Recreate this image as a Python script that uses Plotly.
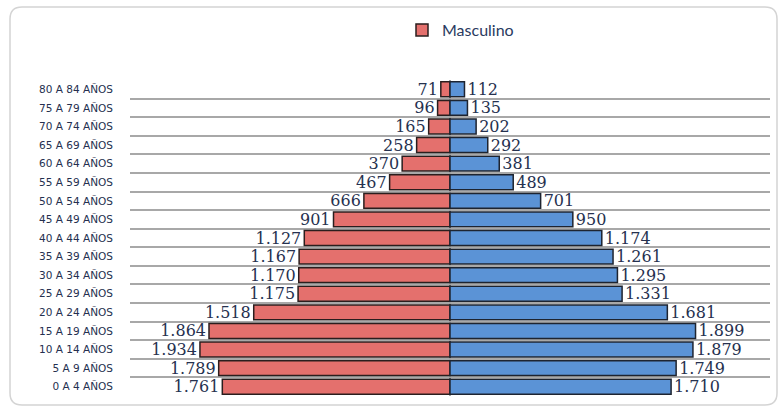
import plotly.graph_objects as go

age_groups = ["0 A 4 AÑOS", "5 A 9 AÑOS", "10 A 14 AÑOS", "15 A 19 AÑOS", "20 A 24 AÑOS",
              "25 A 29 AÑOS", "30 A 34 AÑOS", "35 A 39 AÑOS", "40 A 44 AÑOS", "45 A 49 AÑOS",
              "50 A 54 AÑOS", "55 A 59 AÑOS", "60 A 64 AÑOS", "65 A 69 AÑOS", "70 A 74 AÑOS",
              "75 A 79 AÑOS", "80 A 84 AÑOS"]
masculino = [1761, 1789, 1934, 1864, 1518, 1175, 1170, 1167, 1127, 901, 666, 467, 370, 258, 165, 96, 71]
femenino = [1710, 1749, 1879, 1899, 1681, 1331, 1295, 1261, 1174, 950, 701, 489, 381, 292, 202, 135, 112]


def fmt(v):
    return f"{v:,}".replace(",", ".")


label_font = dict(family="'DejaVu Serif', 'Liberation Serif', serif", size=16, color="#26314F")
sans = "Lato, Carlito, 'Liberation Sans', sans-serif"

fig = go.Figure()
fig.add_trace(go.Bar(
    y=age_groups, x=[-v for v in masculino], orientation="h", name="Masculino",
    marker=dict(color="#E4706D", line=dict(color="#2A1E1E", width=1.5)),
    text=[fmt(v) for v in masculino], textposition="outside", textfont=label_font,
    constraintext="none", cliponaxis=False, hoverinfo="skip",
))
fig.add_trace(go.Bar(
    y=age_groups, x=femenino, orientation="h", name="Femenino", showlegend=False,
    marker=dict(color="#5B93D6", line=dict(color="#1E2430", width=1.5)),
    text=[fmt(v) for v in femenino], textposition="outside", textfont=label_font,
    constraintext="none", cliponaxis=False, hoverinfo="skip",
))

W, H = 782, 412
L, R, T, B = 130, 12, 80, 16
PW, PH = W - L - R, H - T - B


def px_x(p):
    return (p - L) / PW


def px_y(p):
    return (H - B - p) / PH


# rounded frame, pixel corners converted to paper coordinates
fx0, fx1, fy0, fy1 = 10, 777, 7, 405
rad = 12
ax0, ax1 = px_x(fx0), px_x(fx1)
ay_top, ay_bot = px_y(fy0), px_y(fy1)
rx, ry = rad / PW, rad / PH
path = (f"M {ax0+rx},{ay_top} L {ax1-rx},{ay_top} Q {ax1},{ay_top} {ax1},{ay_top-ry} "
        f"L {ax1},{ay_bot+ry} Q {ax1},{ay_bot} {ax1-rx},{ay_bot} L {ax0+rx},{ay_bot} "
        f"Q {ax0},{ay_bot} {ax0},{ay_bot+ry} L {ax0},{ay_top-ry} Q {ax0},{ay_top} {ax0+rx},{ay_top} Z")

fig.update_layout(
    width=W, height=H,
    margin=dict(l=L, r=R, t=T, b=B),
    paper_bgcolor="white", plot_bgcolor="white",
    barmode="relative", bargap=0.2,
    showlegend=True,
    legend=dict(x=px_x(402), xanchor="left", y=px_y(30), yanchor="middle",
                font=dict(family=sans, size=16, color="#2A3A60"),
                itemwidth=30, bgcolor="rgba(0,0,0,0)"),
    xaxis=dict(range=[-2475, 2475], showticklabels=False, showgrid=False,
               zeroline=True, zerolinecolor="#A0A0A0", zerolinewidth=2, fixedrange=True),
    yaxis=dict(type="category", tickson="boundaries", showgrid=True, gridcolor="#A8A8A8",
               gridwidth=2, ticks="", ticklabelstandoff=16,
               tickfont=dict(family="'DejaVu Sans', sans-serif", size=10.5, color="#25304F"),
               showline=False, zeroline=False, fixedrange=True),
    shapes=[dict(type="path", xref="paper", yref="paper", path=path,
                 line=dict(color="#D4D4D4", width=1.5),
                 fillcolor="rgba(0,0,0,0)", layer="below")],
    font=dict(family=sans),
)

fig.write_html("out.html", config={"displayModeBar": False},
               post_script="document.body.style.margin='0';")
